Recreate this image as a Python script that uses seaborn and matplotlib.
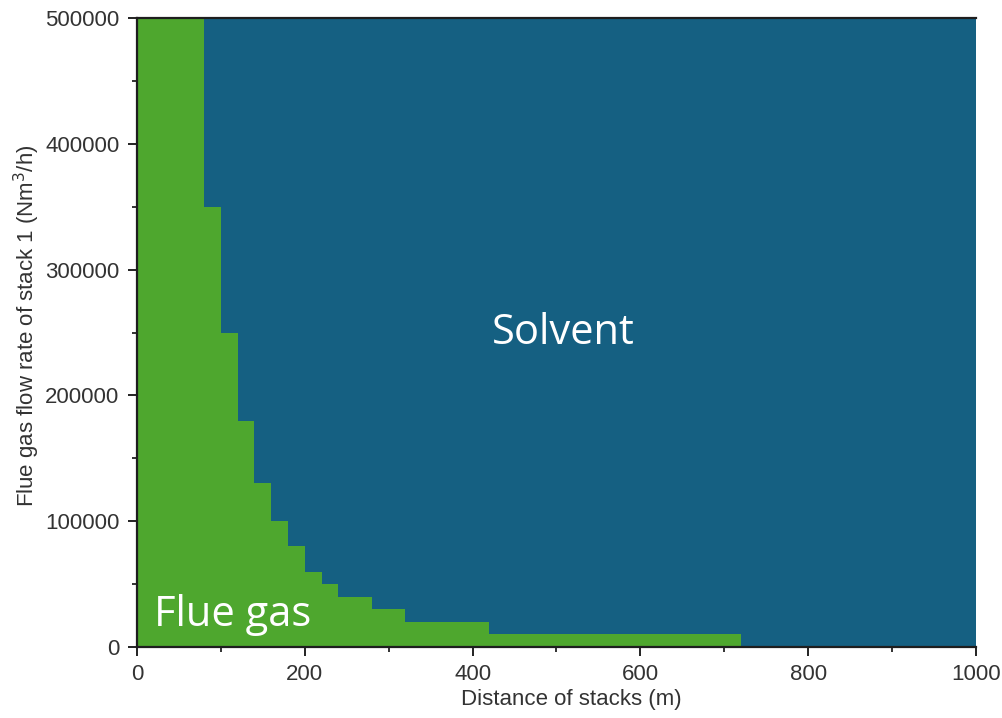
import matplotlib
matplotlib.use("Agg")
import matplotlib.pyplot as plt
import numpy as np
import pandas as pd
import seaborn as sns
from matplotlib.ticker import MultipleLocator

# step boundary between the two regions (distance bin edges in m)
distance_edges = [0, 80, 100, 120, 140, 160, 180, 200, 220, 240, 280, 320, 420, 720, 1000]
# flue gas flow rate limit in each distance bin (Nm3/h)
flue_gas_limit = [500000, 350000, 250000, 180000, 130000, 100000, 80000,
                  60000, 50000, 40000, 30000, 20000, 10000, 0]
flow_max = 500000

green = "#4EA72E"
blue = "#156082"

sns.set_style("ticks")
plt.rcParams["font.family"] = ["Liberation Sans", "DejaVu Sans"]

# long table: one row per bin and region, weight = height of region in that bin
rows = []
for i, h in enumerate(flue_gas_limit):
    left = distance_edges[i]
    rows.append({"distance": left, "region": "Flue gas", "rate": h})
    rows.append({"distance": left, "region": "Solvent", "rate": flow_max - h})
df = pd.DataFrame(rows)

fig = plt.figure(figsize=(10.02, 7.18), dpi=100)
ax = fig.add_axes([0.1367, 0.0989, 0.8373, 0.8760])

# seaborn stacks the last hue level at the bottom
sns.histplot(data=df, x="distance", weights="rate", hue="region",
             bins=distance_edges, multiple="stack", element="bars",
             hue_order=["Solvent", "Flue gas"],
             palette={"Flue gas": green, "Solvent": blue},
             alpha=1, linewidth=0, legend=False, ax=ax)

ax.set_xlim(0, 1000)
ax.set_ylim(0, flow_max)
ax.xaxis.set_major_locator(MultipleLocator(200))
ax.xaxis.set_minor_locator(MultipleLocator(100))
ax.yaxis.set_major_locator(MultipleLocator(100000))
ax.yaxis.set_minor_locator(MultipleLocator(50000))
ax.tick_params(which="major", direction="out", length=6.5, width=1.4, pad=6,
               labelsize=16, colors="#222222", labelcolor="#333333")
ax.tick_params(which="minor", direction="out", length=3.8, width=1.3, colors="#222222")

for s in ["left", "bottom", "top"]:
    ax.spines[s].set_linewidth(1.6)
    ax.spines[s].set_color("#1e1e1e")
ax.spines["right"].set_visible(False)

ax.set_xlabel("Distance of stacks (m)", fontsize=16, color="#333333")
ax.xaxis.set_label_coords(0.518, -0.066)
ax.set_ylabel("Flue gas flow rate of stack 1 (Nm$^3$/h)", fontsize=16,
              color="#333333")
ax.yaxis.set_label_coords(-0.113, 0.51)

ax.text(508, 250000, "Solvent", color="white", fontsize=30,
        family=["Open Sans", "DejaVu Sans"], ha="center", va="center")
ax.text(20, 17000, "Flue gas", color="white", fontsize=30,
        family=["Open Sans", "DejaVu Sans"], ha="left", va="baseline")

fig.savefig("out.png", dpi=100)
